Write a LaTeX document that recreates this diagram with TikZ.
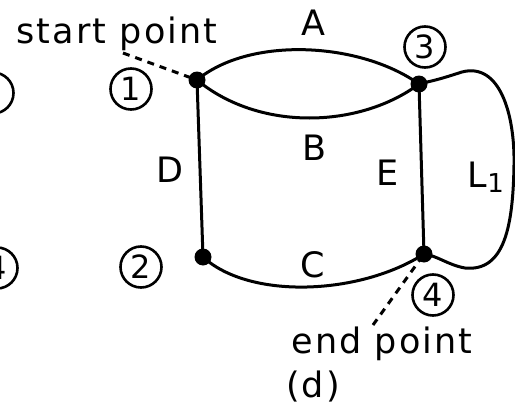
\documentclass[tikz,border=0pt]{standalone}
\usepackage{fontspec}
\setmainfont{DejaVu Sans}
\begin{document}
\begin{tikzpicture}[x=1pt,y=-1pt,
  edge/.style={line width=3pt,line cap=round},
  dashedge/.style={line width=3pt,dash pattern=on 7pt off 6pt},
  dot/.style={circle,fill=black,inner sep=0pt,minimum size=17pt},
  num/.style={circle,draw,line width=2.6pt,minimum size=41pt,inner sep=0pt,font=\fontsize{32}{32}\selectfont},
  lbl/.style={inner sep=0pt,font=\fontsize{35}{35}\selectfont\addfontfeatures{LetterSpace=6}}]
\useasboundingbox (0,0) rectangle (515,407);
% partial circled numbers at the left edge
\begin{scope}
\clip (0,0) rectangle (60,407);
\node[num] (p5) at (-7,93) {5};
\node[num] (p4) at (-3,268) {4};
\end{scope}
% vertices
\node[dot] (n1) at (197,80) {};
\node[dot] (n3) at (419,84) {};
\node[dot] (n2) at (203,257) {};
\node[dot] (n4) at (424,254) {};
% circled numbers
\node[num] (c1) at (131,89) {1};
\node[num] (c2) at (141,267) {2};
\node[num] (c3) at (425,47) {3};
\node[num] (c4) at (433,295) {4};
% edges
\draw[edge] (n1.center) .. controls (250,36) and (360,42) .. (n3.center);
\draw[edge] (n1.center) .. controls (260,132) and (360,128) .. (n3.center);
\draw[edge] (n2.center) .. controls (250,300) and (360,295) .. (n4.center);
\draw[edge] (n1.center) -- (n2.center);
\draw[edge] (n3.center) -- (n4.center);
\coordinate (l1a) at (462,72);
\coordinate (l1b) at (514,165);
\coordinate (l1c) at (465,268);
\draw[edge] (n3.center) .. controls (440,79) .. (l1a)
  .. controls (500,62) and (515,115) .. (l1b)
  .. controls (513,225) and (505,272) .. (l1c)
  .. controls (448,265) and (438,256) .. (n4.center);
% labels
\node[lbl,anchor=base] (sp) at (117,43) {start point};
\node[lbl,anchor=base] (ep) at (382,353) {end point};
\node[lbl] (dd) at (313,387) {(d)};
\node[lbl] (la) at (313,23) {A};
\node[lbl] (lb) at (315,148) {B};
\node[lbl] (lc) at (313,265) {C};
\node[lbl] (ld) at (170,170) {D};
\node[lbl] (le) at (388,173) {E};
\node[lbl] (ll) at (486,177) {L\raisebox{-0.25ex}{\fontsize{26}{26}\selectfont 1}};
% dashed pointers
\coordinate (spd) at (123,53);
\coordinate (epd) at (373,325);
\draw[dashedge] (spd) -- (n1.center);
\draw[dashedge] (epd) -- (n4.center);
\end{tikzpicture}
\end{document}
